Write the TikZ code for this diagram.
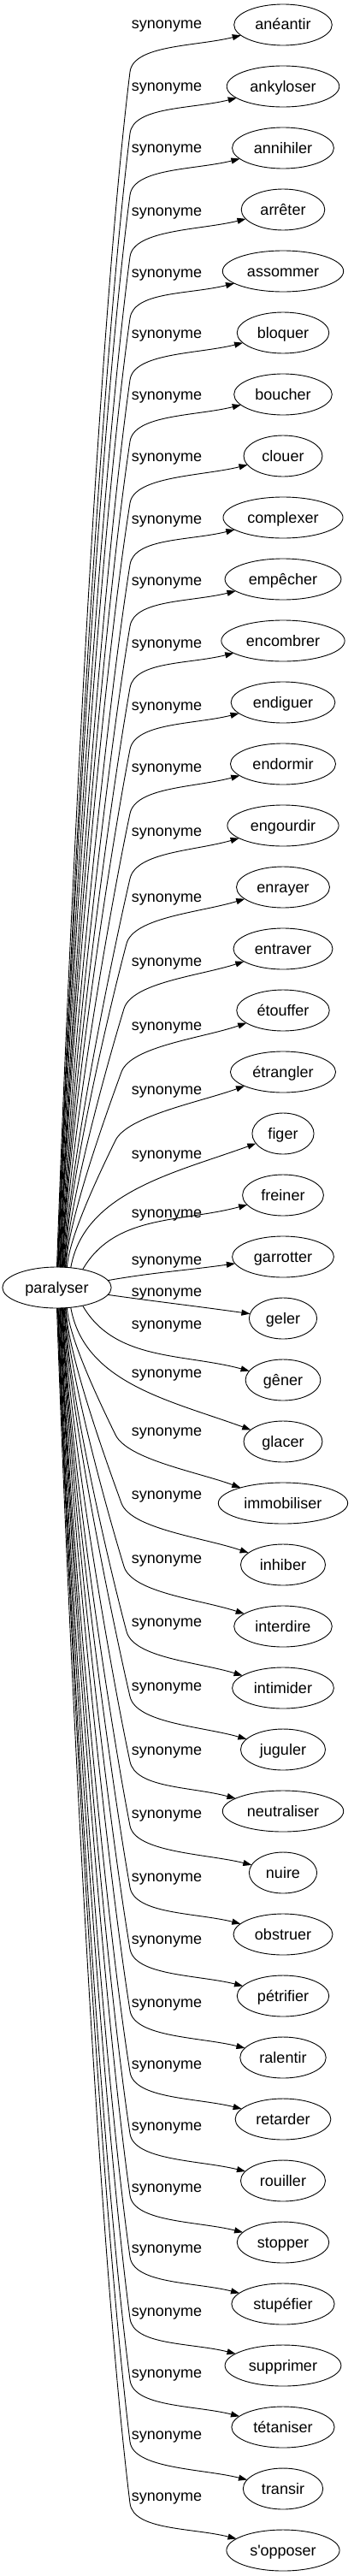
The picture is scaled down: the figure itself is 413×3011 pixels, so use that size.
\documentclass[tikz,border=0pt]{standalone}
\usepackage{fontspec}
\setmainfont{Liberation Sans}
\usepackage{tikz}
\usetikzlibrary{positioning,arrows.meta,shapes.geometric}

\begin{document}
\begin{tikzpicture}[
    x=1pt, y=1pt,
    font=\fontsize{18pt}{21pt}\selectfont,
    node distance=24pt,
    line width=0.9pt,
    >={Triangle[length=10pt, width=7pt]},
    word/.style={draw, ellipse, minimum width=72pt, minimum height=48pt, inner xsep=8pt, inner ysep=2pt, text height=16pt, text depth=4pt, outer sep=0pt},
    rel/.style={anchor=base, inner sep=0pt},
    link/.style={->}
]
\useasboundingbox (0,0) rectangle (413,-3011);

% 根节点
\node[word] (root) at (66.5,-1505) {paralyser};

% 同义词
\node[word] (t0) at (331,-29) {anéantir};
\node[word, below=of t0] (t1) {ankyloser};
\node[word, below=of t1] (t2) {annihiler};
\node[word, below=of t2] (t3) {arrêter};
\node[word, below=of t3] (t4) {assommer};
\node[word, below=of t4] (t5) {bloquer};
\node[word, below=of t5] (t6) {boucher};
\node[word, below=of t6] (t7) {clouer};
\node[word, below=of t7] (t8) {complexer};
\node[word, below=of t8] (t9) {empêcher};
\node[word, below=of t9] (t10) {encombrer};
\node[word, below=of t10] (t11) {endiguer};
\node[word, below=of t11] (t12) {endormir};
\node[word, below=of t12] (t13) {engourdir};
\node[word, below=of t13] (t14) {enrayer};
\node[word, below=of t14] (t15) {entraver};
\node[word, below=of t15] (t16) {étouffer};
\node[word, below=of t16] (t17) {étrangler};
\node[word, below=of t17] (t18) {figer};
\node[word, below=of t18] (t19) {freiner};
\node[word, below=of t19] (t20) {garrotter};
\node[word, below=of t20] (t21) {geler};
\node[word, below=of t21] (t22) {gêner};
\node[word, below=of t22] (t23) {glacer};
\node[word, below=of t23] (t24) {immobiliser};
\node[word, below=of t24] (t25) {inhiber};
\node[word, below=of t25] (t26) {interdire};
\node[word, below=of t26] (t27) {intimider};
\node[word, below=of t27] (t28) {juguler};
\node[word, below=of t28] (t29) {neutraliser};
\node[word, below=of t29] (t30) {nuire};
\node[word, below=of t30] (t31) {obstruer};
\node[word, below=of t31] (t32) {pétrifier};
\node[word, below=of t32] (t33) {ralentir};
\node[word, below=of t33] (t34) {retarder};
\node[word, below=of t34] (t35) {rouiller};
\node[word, below=of t35] (t36) {stopper};
\node[word, below=of t36] (t37) {stupéfier};
\node[word, below=of t37] (t38) {supprimer};
\node[word, below=of t38] (t39) {tétaniser};
\node[word, below=of t39] (t40) {transir};
\node[word, below=of t40] (t41) {s\textquotesingle opposer};

% 边标签
\foreach \y [count=\k from 0] in {34,106,178,252,324,395,467,539,612,684,757,830,902,977,1054,1129,1204,1279,1354,1423,1478,1515,1553,1610,1678,1752,1827,1901,1976,2051,2125,2199,2272,2346,2418,2490,2562,2633,2707,2779,2851,2923}
    \node[rel] (l\k) at (195,-\y) {synonyme};

% 上方的边
\foreach \k/\a/\bx/\by/\d/\e in {0/90/152/84/83/194, 1/88/152/156/83/194, 2/87/152/228/82.5/194, 3/86/152/300/82.5/194, 4/84/152/372/82/194, 5/82/152/444/82/194, 6/81/152/516/81.5/194, 7/80/152/588/81/194, 8/78/152/660/81/194, 9/76/152/732/80.5/194, 10/75/152/804/80/194, 11/74/152/876/79/194, 12/72/152/951/78/195, 13/70/152/1027/77/196, 14/69/148/1103/75/197, 15/67/145/1179/73/198, 16/66/142/1253/70/199, 17/63/135/1333/64/200}{
    \pgfmathsetmacro\din{\d+180}
    \pgfmathsetmacro\L{0.235*(1481-\by)}
    \draw[link] (root.\a) .. controls +(88:\L) and +(\din:\L) .. (\bx,-\by)
        .. controls +(\d:32) and +(\e:54) .. (t\k.\e);
}

% 中间的边
\draw[link] (root.55) .. controls +(80:90) and +(200:100) .. (t18.200);
\draw[link] (root.35) .. controls +(60:75) and +(195:80) .. (t19.195);
\draw[link] (root.8) .. controls +(10:55) and +(188:60) .. (t20.188);
\draw[link] (root.-8) .. controls +(-8:60) and +(172:65) .. (t21.172);
\draw[link] (root.-35) .. controls +(-60:75) and +(165:80) .. (t22.165);
\draw[link] (root.-55) .. controls +(-80:90) and +(160:100) .. (t23.160);

% 下方的边
\foreach \k/\a/\bx/\by/\d/\e in {24/-63/135/1677/-64/160, 25/-66/142/1757/-70/161, 26/-67/145/1831/-73/162, 27/-69/148/1907/-75/163, 28/-70/152/1983/-77/164, 29/-72/152/2059/-78/165, 30/-74/152/2134/-79/166, 31/-75/152/2206/-80/166, 32/-76/152/2278/-80.5/166, 33/-78/152/2350/-81/166, 34/-80/152/2422/-81/166, 35/-81/152/2494/-81.5/166, 36/-82/152/2566/-82/166, 37/-84/152/2638/-82/166, 38/-86/152/2710/-82.5/166, 39/-87/152/2782/-82.5/166, 40/-88/152/2854/-83/166, 41/-90/152/2926/-83/166}{
    \pgfmathsetmacro\din{\d+180}
    \pgfmathsetmacro\L{0.235*(\by-1529)}
    \draw[link] (root.\a) .. controls +(-88:\L) and +(\din:\L) .. (\bx,-\by)
        .. controls +(\d:32) and +(\e:54) .. (t\k.\e);
}

\end{tikzpicture}
\end{document}
